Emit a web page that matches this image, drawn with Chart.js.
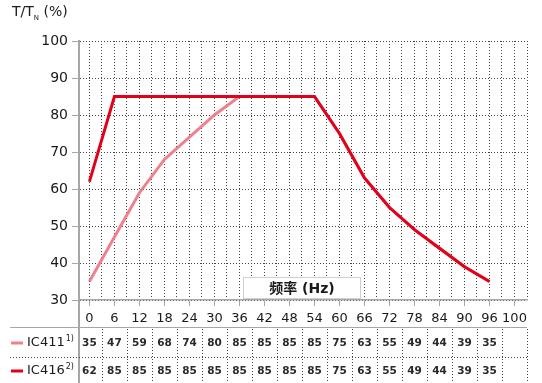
<!DOCTYPE html>
<html>
<head>
<meta charset="utf-8">
<script src="https://cdn.jsdelivr.net/npm/chart.js@4"></script>
<style>
  body { margin: 0; background: #fff; }
</style>
</head>
<body>
<canvas id="chart" width="542" height="383"></canvas>
<script>
// data
const freqs = [0, 6, 12, 18, 24, 30, 36, 42, 48, 54, 60, 66, 72, 78, 84, 90, 96];
const ic411 = [35, 47, 59, 68, 74, 80, 85, 85, 85, 85, 75, 63, 55, 49, 44, 39, 35];
const ic416 = [62, 85, 85, 85, 85, 85, 85, 85, 85, 85, 75, 63, 55, 49, 44, 39, 35];
// x tick labels and where they sit (the last one is squeezed in after 96)
const xTickValues = [0, 6, 12, 18, 24, 30, 36, 42, 48, 54, 60, 66, 72, 78, 84, 90, 96, 102];
const xTickLabels = ['0', '6', '12', '18', '24', '30', '36', '42', '48', '54', '60', '66', '72', '78', '84', '90', '96', '100'];

const red = '#e3001b';
const pink = '#f0808c';
const txt = '#1a1a1a';
const axisGrey = '#a6a6a6';
const gridCol = '#444';
const fnt = '"DejaVu Sans", "Noto Sans CJK SC", sans-serif';

function pts(vals) {
  return freqs.map((f, i) => ({ x: f, y: vals[i] }));
}

const extras = {
  id: 'extras',
  afterDraw(chart) {
    const c = chart.ctx;
    const xs = chart.scales.x;
    const area = chart.chartArea;
    c.save();

    // y title  T/T_N (%)
    c.fillStyle = txt;
    c.textBaseline = 'middle';
    c.textAlign = 'left';
    c.font = '14px ' + fnt;
    c.fillText('T/T', 12, 12);
    let w = c.measureText('T/T').width;
    c.font = '7px ' + fnt;
    c.fillText('N', 12 + w, 18);
    let w2 = c.measureText('N').width;
    c.font = '14px ' + fnt;
    c.fillText(' (%)', 12 + w + w2, 12);

    // x title box
    c.fillStyle = '#fff';
    c.fillRect(243, 277, 117, 21);
    c.strokeStyle = '#d0d0d0';
    c.lineWidth = 1;
    c.strokeRect(243.5, 277.5, 117, 21);
    c.fillStyle = txt;
    c.textAlign = 'center';
    c.font = 'bold 14px ' + fnt;
    c.fillText('频率 (Hz)', 302, 289);

    // y axis line continues through the table
    c.strokeStyle = axisGrey;
    c.lineWidth = 2;
    c.beginPath();
    c.moveTo(area.left, area.bottom);
    c.lineTo(area.left, 383);
    c.stroke();

    // table lines
    c.lineWidth = 1;
    c.beginPath();
    c.moveTo(10, 327.5);
    c.lineTo(area.right, 327.5);
    c.stroke();

    c.strokeStyle = gridCol;
    c.setLineDash([1, 2]);
    c.beginPath();
    c.moveTo(10, 357.5);
    c.lineTo(area.right, 357.5);
    for (let v = 3; v <= 105; v += 6) {
      const px = Math.round(xs.getPixelForValue(v)) + 0.5;
      c.moveTo(px, 329);
      c.lineTo(px, 383);
    }
    c.stroke();
    c.setLineDash([]);

    // row labels
    const rows = [
      { name: 'IC411', sup: '1)', color: pink, vals: ic411, y: 343 },
      { name: 'IC416', sup: '2)', color: red, vals: ic416, y: 371 }
    ];
    rows.forEach(r => {
      c.strokeStyle = r.color;
      c.lineWidth = 3;
      c.beginPath();
      c.moveTo(11, r.y);
      c.lineTo(23, r.y);
      c.stroke();
      c.fillStyle = txt;
      c.textAlign = 'left';
      c.font = '13px ' + fnt;
      c.fillText(r.name, 27, r.y);
      const nw = c.measureText(r.name).width;
      c.font = '8px ' + fnt;
      c.fillText(r.sup, 27 + nw + 1, r.y - 4);
      c.textAlign = 'center';
      c.fillStyle = '#2a2a2a';
      c.font = 'bold 10.5px ' + fnt;
      r.vals.forEach((v, i) => {
        c.fillText(String(v), xs.getPixelForValue(freqs[i]), r.y);
      });
    });

    c.restore();
  }
};

new Chart(document.getElementById('chart'), {
  type: 'line',
  data: {
    datasets: [
      { label: 'IC416', data: pts(ic416), borderColor: red, borderWidth: 3, pointRadius: 0, tension: 0, order: 0 },
      { label: 'IC411', data: pts(ic411), borderColor: pink, borderWidth: 3, pointRadius: 0, tension: 0, order: 1 }
    ]
  },
  options: {
    responsive: false,
    animation: false,
    layout: { padding: { top: 41, right: 15, left: 0, bottom: 0 } },
    plugins: { legend: { display: false }, tooltip: { enabled: false } },
    scales: {
      x: {
        type: 'linear',
        min: -2.5,
        max: 105,
        afterBuildTicks: s => {
          s.ticks = [];
          for (let v = 0; v <= 105; v += 3) s.ticks.push({ value: v });
        },
        afterFit: s => { s.height = 83; },
        ticks: {
          autoSkip: false,
          maxRotation: 0,
          padding: 5,
          color: txt,
          font: { family: fnt, size: 13 },
          callback: v => {
            const i = xTickValues.indexOf(v);
            return i < 0 ? '' : xTickLabels[i];
          }
        },
        grid: {
          color: gridCol,
          lineWidth: 1,
          tickLength: 6,
          tickBorderDash: [],
          tickColor: ctx => (ctx.tick && xTickValues.includes(ctx.tick.value)) ? axisGrey : 'rgba(0,0,0,0)'
        },
        border: { color: axisGrey, width: 1.5, dash: [1, 2] }
      },
      y: {
        min: 30,
        max: 100,
        afterBuildTicks: s => {
          s.ticks = [];
          for (let v = 30; v <= 100; v += 10) s.ticks.push({ value: v });
        },
        afterFit: s => { s.width = 79; },
        ticks: {
          padding: 4,
          color: txt,
          font: { family: fnt, size: 14 }
        },
        grid: {
          color: gridCol,
          lineWidth: 1,
          tickLength: 7,
          tickBorderDash: [],
          tickColor: axisGrey
        },
        border: { color: axisGrey, width: 2, dash: [1, 2] }
      }
    }
  },
  plugins: [extras]
});
</script>
</body>
</html>
